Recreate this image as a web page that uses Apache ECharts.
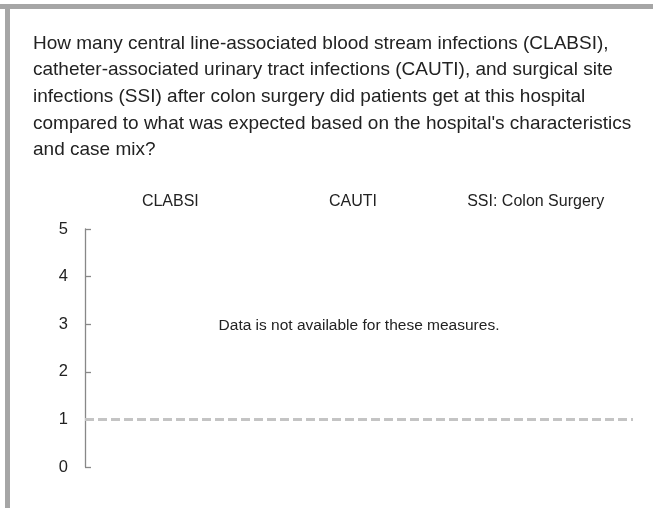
<!DOCTYPE html>
<html>
<head>
<meta charset="utf-8">
<script src="https://cdn.jsdelivr.net/npm/echarts@6/dist/echarts.min.js"></script>
<style>
  html, body { margin: 0; padding: 0; background: #fff; }
  #chart { width: 653px; height: 508px; }
</style>
</head>
<body>
<div id="chart"></div>
<script>
  // question text, one entry per line as in the source
  const titleLines = [
    'How many central line-associated blood stream infections (CLABSI),',
    'catheter-associated urinary tract infections (CAUTI), and surgical site',
    'infections (SSI) after colon surgery did patients get at this hospital',
    "compared to what was expected based on the hospital's characteristics",
    'and case mix?'
  ];
  const categories = ['CLABSI', 'CAUTI', 'SSI: Colon Surgery'];
  // no data for any measure
  const ratios = [null, null, null];
  const yMin = 0;
  const yMax = 5;
  const yStep = 1;
  const expected = 1;
  const noDataText = 'Data is not available for these measures.';

  const chart = echarts.init(document.getElementById('chart'));
  const font = '"Liberation Sans", Arial, sans-serif';

  const borders = [
    { type: 'rect', shape: { x: 0, y: 4, width: 653, height: 5 }, style: { fill: '#a6a6a6' } },
    { type: 'rect', shape: { x: 5, y: 9, width: 5, height: 499 }, style: { fill: '#a6a6a6' } }
  ];

  chart.setOption({
    animation: false,
    title: {
      text: titleLines.join('\n'),
      left: 28,
      top: 25,
      textStyle: {
        fontFamily: font,
        fontSize: 19,
        fontWeight: 'normal',
        color: '#222',
        lineHeight: 26.7
      }
    },
    grid: {
      left: 85,
      right: 20,
      top: 229,
      bottom: 41
    },
    xAxis: {
      type: 'category',
      data: categories,
      position: 'top',
      axisLine: { show: false },
      axisTick: { show: false },
      axisLabel: {
        margin: 19,
        fontFamily: font,
        fontSize: 16,
        color: '#222',
        padding: [0, 12, 0, 0]
      }
    },
    yAxis: {
      type: 'value',
      min: yMin,
      max: yMax,
      interval: yStep,
      axisLine: { show: true, lineStyle: { color: '#888', width: 1.3 } },
      axisTick: { show: true, inside: true, length: 6, lineStyle: { color: '#888', width: 1.3 } },
      splitLine: { show: false },
      axisLabel: {
        margin: 17,
        fontFamily: font,
        fontSize: 16.5,
        color: '#222'
      }
    },
    series: [{
      type: 'bar',
      data: ratios,
      markLine: {
        silent: true,
        symbol: 'none',
        label: { show: false },
        lineStyle: { color: '#c4c4c4', width: 3, type: [9, 4] },
        data: [{ yAxis: expected }]
      }
    }],
    graphic: borders
  });

  // message in the middle of the plot
  const cx = chart.convertToPixel({ xAxisIndex: 0 }, categories[1]);
  const cy = chart.convertToPixel({ yAxisIndex: 0 }, 3);
  chart.setOption({
    graphic: borders.concat([{
      type: 'text',
      x: cx,
      y: cy + 2,
      style: {
        text: noDataText,
        fontFamily: font,
        fontSize: 15.5,
        fill: '#222',
        align: 'center',
        verticalAlign: 'middle'
      }
    }])
  });
</script>
</body>
</html>
